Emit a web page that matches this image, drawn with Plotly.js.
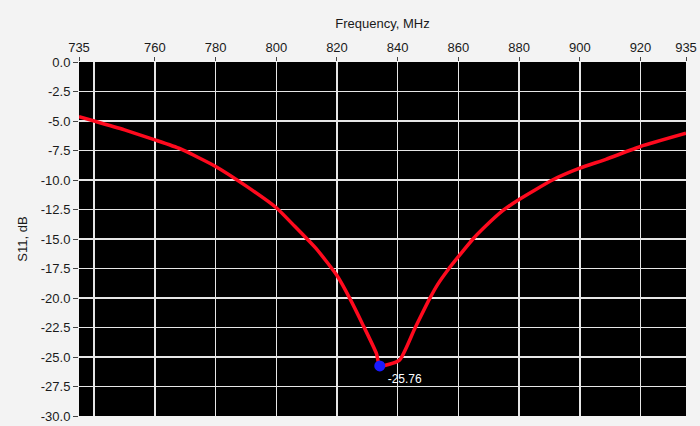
<!DOCTYPE html>
<html>
<head>
<meta charset="utf-8">
<script src="https://cdn.plot.ly/plotly-3.0.1.min.js"></script>
<style>
html,body{margin:0;padding:0;background:#f3f3f3;}
#chart{width:700px;height:426px;}
</style>
</head>
<body>
<div id="chart"></div>
<script>
// Frequency (MHz) and S11 (dB)
const freq = [735, 740, 750, 760, 768.3, 780, 790, 800, 806, 813.3, 820, 824.3, 828.6, 833.0, 834.1, 840.6, 845.6, 850.5, 853.3, 856.6, 860, 864.8, 869, 874.6, 880, 891, 900, 908.6, 920, 935];
const s11  = [-4.64, -5.0, -5.75, -6.6, -7.35, -8.85, -10.5, -12.35, -13.9, -15.86, -18.1, -20.07, -22.3, -24.7, -25.76, -25.26, -22.6, -20.07, -18.8, -17.6, -16.5, -15.0, -13.9, -12.6, -11.65, -10.0, -9.0, -8.25, -7.16, -6.04];

// marker
const markerFreq = [834.1];
const markerVal = [-25.76];
const markerLabel = ["-25.76"];

// axes ticks
const xTickVals = [735, 760, 780, 800, 820, 840, 860, 880, 900, 920, 935];
const xTickText = ["735", "760", "780", "800", "820", "840", "860", "880", "900", "920", "935"];
const xGridVals = [740, 760, 780, 800, 820, 840, 860, 880, 900, 920];
const yTickVals = [0, -2.5, -5, -7.5, -10, -12.5, -15, -17.5, -20, -22.5, -25, -27.5, -30];
const yTickText = ["0.0", "-2.5", "-5.0", "-7.5", "-10.0", "-12.5", "-15.0", "-17.5", "-20.0", "-22.5", "-25.0", "-27.5", "-30.0"];
const yGridVals = [-2.5, -5, -7.5, -10, -12.5, -15, -17.5, -20, -22.5, -25, -27.5];

const FONT = "Liberation Sans, Arial, sans-serif";

const traces = [
  {
    x: freq, y: s11, type: 'scatter', mode: 'lines',
    line: {color: '#ff0a1e', width: 3.5, shape: 'spline', smoothing: 0.5},
    hoverinfo: 'skip', showlegend: false
  },
  {
    x: markerFreq, y: markerVal, type: 'scatter', mode: 'markers+text',
    marker: {color: '#1a1aff', size: 11},
    text: markerLabel, textposition: 'bottom right',
    textfont: {color: '#ffffff', size: 12, family: FONT},
    hoverinfo: 'skip', showlegend: false
  },
  {
    x: freq, y: s11, xaxis: 'x2', yaxis: 'y2', type: 'scatter', mode: 'lines',
    line: {color: 'rgba(0,0,0,0)', width: 0},
    hoverinfo: 'skip', showlegend: false
  }
];

const layout = {
  width: 700, height: 426,
  margin: {l: 79, r: 14, t: 62, b: 10},
  paper_bgcolor: '#f3f3f3',
  plot_bgcolor: '#000000',
  font: {family: FONT, size: 13, color: '#1a1a1a'},
  showlegend: false,
  xaxis: {
    side: 'top', range: [735, 935], tickmode: 'array',
    tickvals: xTickVals, ticktext: xTickText,
    ticks: 'outside', ticklen: 4, tickcolor: '#444', tickwidth: 1,
    showgrid: false, zeroline: false, showline: false,
    tickfont: {family: FONT, size: 13, color: '#1a1a1a'},
    title: {text: 'Frequency, MHz', font: {family: FONT, size: 13, color: '#1a1a1a'}, standoff: 8},
    fixedrange: true
  },
  yaxis: {
    range: [-30, 0], tickmode: 'array',
    tickvals: yTickVals, ticktext: yTickText,
    ticks: 'outside', ticklen: 5, tickcolor: '#444', tickwidth: 1,
    showgrid: false, zeroline: false, showline: false,
    tickfont: {family: FONT, size: 13, color: '#1a1a1a'},
    title: {text: 'S11, dB', font: {family: FONT, size: 13, color: '#1a1a1a'}, standoff: 10},
    fixedrange: true
  },
  xaxis2: {
    overlaying: 'x', side: 'top', range: [735, 935], tickmode: 'array',
    tickvals: xGridVals, showticklabels: false, ticks: '',
    showgrid: true, gridcolor: '#e6e6e6', gridwidth: 1.5,
    zeroline: false, showline: false, fixedrange: true
  },
  yaxis2: {
    overlaying: 'y', side: 'left', range: [-30, 0], tickmode: 'array',
    tickvals: yGridVals, showticklabels: false, ticks: '',
    showgrid: true, gridcolor: '#e6e6e6', gridwidth: 1.5,
    zeroline: false, showline: false, fixedrange: true
  }
};

Plotly.newPlot('chart', traces, layout, {displayModeBar: false, staticPlot: true});
</script>
</body>
</html>
